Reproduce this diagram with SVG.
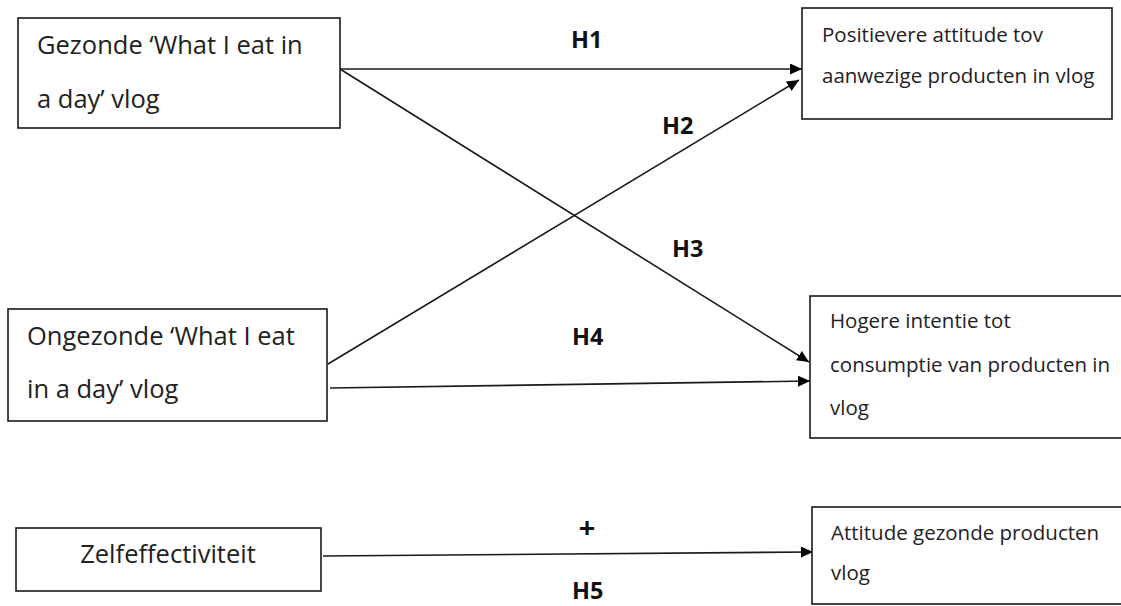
<svg xmlns="http://www.w3.org/2000/svg" width="1121" height="606" viewBox="0 0 1121 606">
<style>
.box{fill:#fff;stroke:#1a1a1a;stroke-width:1.6}
.t{font-family:"Open Sans","Noto Sans",sans-serif;fill:#222}
.big{font-size:25.5px}
.sm{font-size:20.5px}
.lab{font-family:"Open Sans","Noto Sans",sans-serif;font-weight:bold;font-size:23.5px;fill:#111}
.ln{stroke:#1a1a1a;stroke-width:1.6;fill:none;marker-end:url(#ah)}
</style>
<defs>
<marker id="ah" markerUnits="userSpaceOnUse" markerWidth="12" markerHeight="11" refX="12" refY="5.5" orient="auto">
<path d="M0,0 L12,5.5 L0,11 z" fill="#000"/>
</marker>
</defs>
<rect width="1121" height="606" fill="#fff"/>
<g id="connectors">
<line class="ln" x1="340" y1="69" x2="802" y2="69"/>
<line class="ln" x1="328" y1="364" x2="799" y2="80"/>
<line class="ln" x1="340" y1="69" x2="809" y2="362"/>
<line class="ln" x1="330" y1="388" x2="810" y2="381"/>
<line class="ln" x1="323" y1="556" x2="813" y2="552"/>
</g>
<g id="labels">
<text class="lab" x="571" y="48">H1</text>
<text class="lab" x="662" y="134">H2</text>
<text class="lab" x="672" y="257">H3</text>
<text class="lab" x="572" y="345">H4</text>
<text class="lab" x="587" y="538" text-anchor="middle" style="font-size:29px">+</text>
<text class="lab" x="572" y="599">H5</text>
</g>
<g id="n1">
<rect class="box" x="18" y="18" width="322" height="110"/>
<text class="t big" x="37" y="54">Gezonde ‘What I eat in</text>
<text class="t big" x="37" y="108">a day’ vlog</text>
</g>
<g id="n2">
<rect class="box" x="802" y="8" width="310" height="111"/>
<text class="t sm" x="822" y="42">Positievere attitude tov</text>
<text class="t sm" x="822" y="83">aanwezige producten in vlog</text>
</g>
<g id="n3">
<rect class="box" x="8" y="309" width="319" height="112"/>
<text class="t big" x="27" y="345">Ongezonde ‘What I eat</text>
<text class="t big" x="27" y="398">in a day’ vlog</text>
</g>
<g id="n4">
<rect class="box" x="810" y="296" width="320" height="142"/>
<text class="t sm" x="830" y="328">Hogere intentie tot</text>
<text class="t sm" x="830" y="372">consumptie van producten in</text>
<text class="t sm" x="830" y="415">vlog</text>
</g>
<g id="n5">
<rect class="box" x="16" y="528" width="305" height="63"/>
<text class="t big" x="168" y="563" text-anchor="middle">Zelfeffectiviteit</text>
</g>
<g id="n6">
<rect class="box" x="812" y="507" width="320" height="97"/>
<text class="t sm" x="831" y="540">Attitude gezonde producten</text>
<text class="t sm" x="831" y="580">vlog</text>
</g>
</svg>
